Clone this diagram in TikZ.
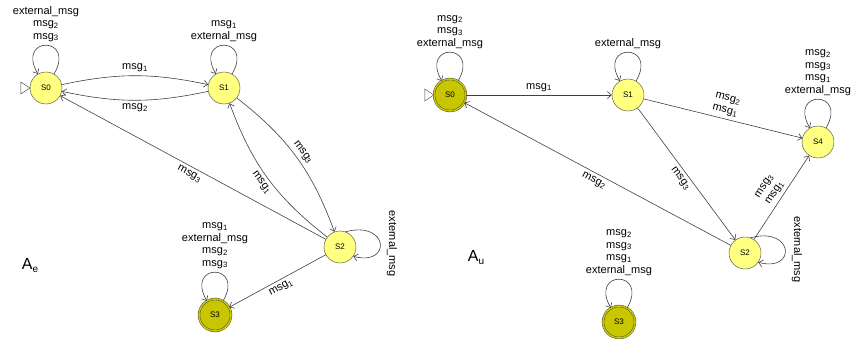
\documentclass[tikz,border=0pt]{standalone}
\usepackage{fontspec}
\setmainfont{Liberation Sans}
\usetikzlibrary{arrows.meta}

\definecolor{stfill}{RGB}{255,255,128}
\definecolor{finfill}{RGB}{200,198,0}
\definecolor{lines}{RGB}{64,64,64}

\newcommand{\msg}[1]{msg\textsubscript{#1}}

\begin{document}
\begin{tikzpicture}[x=1pt,y=1pt,>={Straight Barb[length=4pt,width=7pt]},
  font=\fontsize{11}{12.5}\selectfont,
  state/.style={circle,draw=lines,fill=stfill,minimum size=32pt,inner sep=0pt,
    font=\fontsize{8}{9}\selectfont},
  accepting/.style={state,fill=finfill,double=finfill,double distance=1.5pt},
  every edge/.style={draw=lines,line width=0.6pt,->}]
  \useasboundingbox (0,0) rectangle (851,-339);

  % A_e
  \node[state] (s0e) at (46,-88) {S0};
  \node[state] (s1e) at (224,-88) {S1};
  \node[state] (s2e) at (340,-247) {S2};
  \node[accepting] (s3e) at (215,-315) {S3};
  \node (ae) at (30,-266) {\fontsize{16}{18}\selectfont A{\fontsize{10}{10}\selectfont\raisebox{-3pt}{e}}};

  % A_u
  \node[accepting] (s0u) at (450,-95) {S0};
  \node[state] (s1u) at (628,-95) {S1};
  \node[state] (s2u) at (745,-253) {S2};
  \node[accepting] (s3u) at (619,-322) {S3};
  \node[state] (s4u) at (818,-142) {S4};
  \node (au) at (476,-258) {\fontsize{16}{18}\selectfont A{\fontsize{10}{10}\selectfont\raisebox{-3pt}{u}}};

  % start markers
  \foreach \s in {s0e,s0u}
    \draw[draw=lines,fill=white] (\s.west) -- ++(-9,6) -- ++(0,-12) -- cycle;

  % transitions of A_e
  \path (s0e) edge[bend left=12] node[above]{\msg1} (s1e)
        (s1e) edge[bend left=12] node[below]{\msg2} (s0e)
        (s1e) edge[bend left=16] node[above,sloped]{\msg3} (s2e)
        (s2e) edge[bend left=16] node[below,sloped]{\msg1} (s1e)
        (s2e) edge node[below,sloped]{\msg3} (s0e)
        (s2e) edge node[below,sloped]{\msg1} (s3e);

  % transitions of A_u
  \path (s0u) edge node[above]{\msg1} (s1u)
        (s1u) edge node[above,sloped,align=center]{\msg2\\\msg1} (s4u)
        (s1u) edge node[below,sloped]{\msg3} (s2u)
        (s2u) edge node[below,sloped]{\msg2} (s0u)
        (s2u) edge node[above,sloped,align=center]{\msg3\\\msg1} (s4u);

  % loops on top
  \foreach \s/\l in {s0e/{external\_msg\\\msg2\\\msg3},
                     s1e/{\msg1\\external\_msg},
                     s3e/{\msg1\\external\_msg\\\msg2\\\msg3},
                     s0u/{\msg2\\\msg3\\external\_msg},
                     s1u/{external\_msg},
                     s4u/{\msg2\\\msg3\\\msg1\\external\_msg},
                     s3u/{\msg2\\\msg3\\\msg1\\external\_msg}}
    \path (\s) edge[loop,out=60,in=120,looseness=7] node[above,align=center]{\l} (\s);

  % loops at the side of S2
  \foreach \s in {s2e,s2u}
    \draw[draw=lines,line width=0.6pt,->] (\s.70) .. controls +(15:45) and +(-15:40) ..
      node[pos=.5,rotate=-90,anchor=south,yshift=3pt]{external\_msg} (\s.-35);
\end{tikzpicture}
\end{document}
